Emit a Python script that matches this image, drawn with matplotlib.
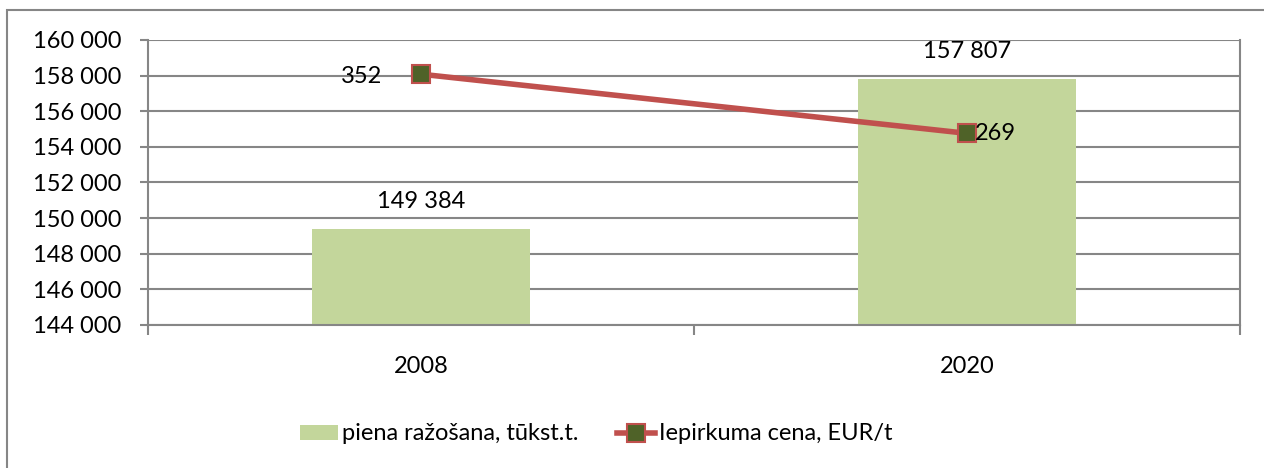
import matplotlib.pyplot as plt
from matplotlib.lines import Line2D
from matplotlib.patches import Patch, Rectangle

# data
years = ["2008", "2020"]
production = [149384, 157807]   # piena ražošana, tūkst.t.
price = [352, 269]              # Iepirkuma cena, EUR/t

bar_color = "#C3D69B"
line_color = "#C0504D"
marker_face = "#4F6228"
grid_color = "#868686"

plt.rcParams['font.family'] = ['Lato', 'DejaVu Sans']
fs = 17

fig = plt.figure(figsize=(12.64, 4.68), dpi=100)
W, H = 1264, 468
# plot area in pixels: left 148, right 1240, top 40, bottom 325
ax = fig.add_axes([148 / W, 1 - 325 / H, (1240 - 148) / W, (325 - 40) / H])

x = [0.5, 1.5]
ax.bar(x, production, width=0.4, color=bar_color, zorder=2)
ax.set_xlim(0, 2)
ax.set_ylim(144000, 160000)
ax.set_yticks(range(144000, 160001, 2000))
ax.set_yticklabels([f"{v:,}".replace(",", " ") for v in range(144000, 160001, 2000)], fontsize=fs)
ax.yaxis.grid(True, color=grid_color, linewidth=1.5, zorder=0)
ax.set_axisbelow(True)

# category ticks at boundaries, labels at centres
ax.set_xticks([0, 1, 2])
ax.set_xticklabels([])
ax.set_xticks(x, minor=True)
ax.set_xticklabels(years, minor=True, fontsize=fs)
ax.tick_params(axis='x', which='major', length=7, color=grid_color, width=1.5, direction='out')
ax.tick_params(axis='x', which='minor', length=0, pad=22)
ax.tick_params(axis='y', length=6, color=grid_color, width=1.5, pad=13)

ax.spines['top'].set_visible(False)
for side in ['left', 'right', 'bottom']:
    ax.spines[side].set_color(grid_color)
    ax.spines[side].set_linewidth(1.5)

for xi, v in zip(x, production):
    ax.annotate(f"{v:,}".replace(",", " "), (xi, v), xytext=(0, 12), textcoords='offset points',
                ha='center', va='bottom', fontsize=fs)

# secondary (hidden) axis for price
ax2 = ax.twinx()
ax2.set_ylim(0, 400)
ax2.set_yticks([])
for side in ax2.spines.values():
    side.set_visible(False)
ax2.plot(x, price, color=line_color, linewidth=4, marker='s', markersize=13,
         markerfacecolor=marker_face, markeredgecolor=line_color, markeredgewidth=1.5, zorder=3)
ax2.annotate(str(price[0]), (x[0], price[0]), xytext=(-28, -2), textcoords='offset points',
             ha='right', va='center', fontsize=fs)
ax2.annotate(str(price[1]), (x[1], price[1]), xytext=(6, 0), textcoords='offset points',
             ha='left', va='center', fontsize=fs)

# legend
handles = [Patch(facecolor=bar_color, edgecolor='none'),
           Line2D([], [], color=line_color, linewidth=4, marker='s', markersize=13,
                  markerfacecolor=marker_face, markeredgecolor=line_color, markeredgewidth=1.5)]
labels = ["piena ražošana, tūkst.t.", "Iepirkuma cena, EUR/t"]
fig.legend(handles, labels, loc='center left', bbox_to_anchor=(300 / W, 1 - 434 / H), ncol=2,
           frameon=False, fontsize=fs, handlelength=1.6, handleheight=0.6,
           handletextpad=0.2, columnspacing=1.6, borderpad=0, borderaxespad=0)

# outer chart border
fig.patches.append(Rectangle((7 / W, -0.02), 1.1, 1 - 10 / H + 0.02, transform=fig.transFigure,
                             fill=False, edgecolor=grid_color, linewidth=1.5))

fig.savefig("out.png", dpi=100)
